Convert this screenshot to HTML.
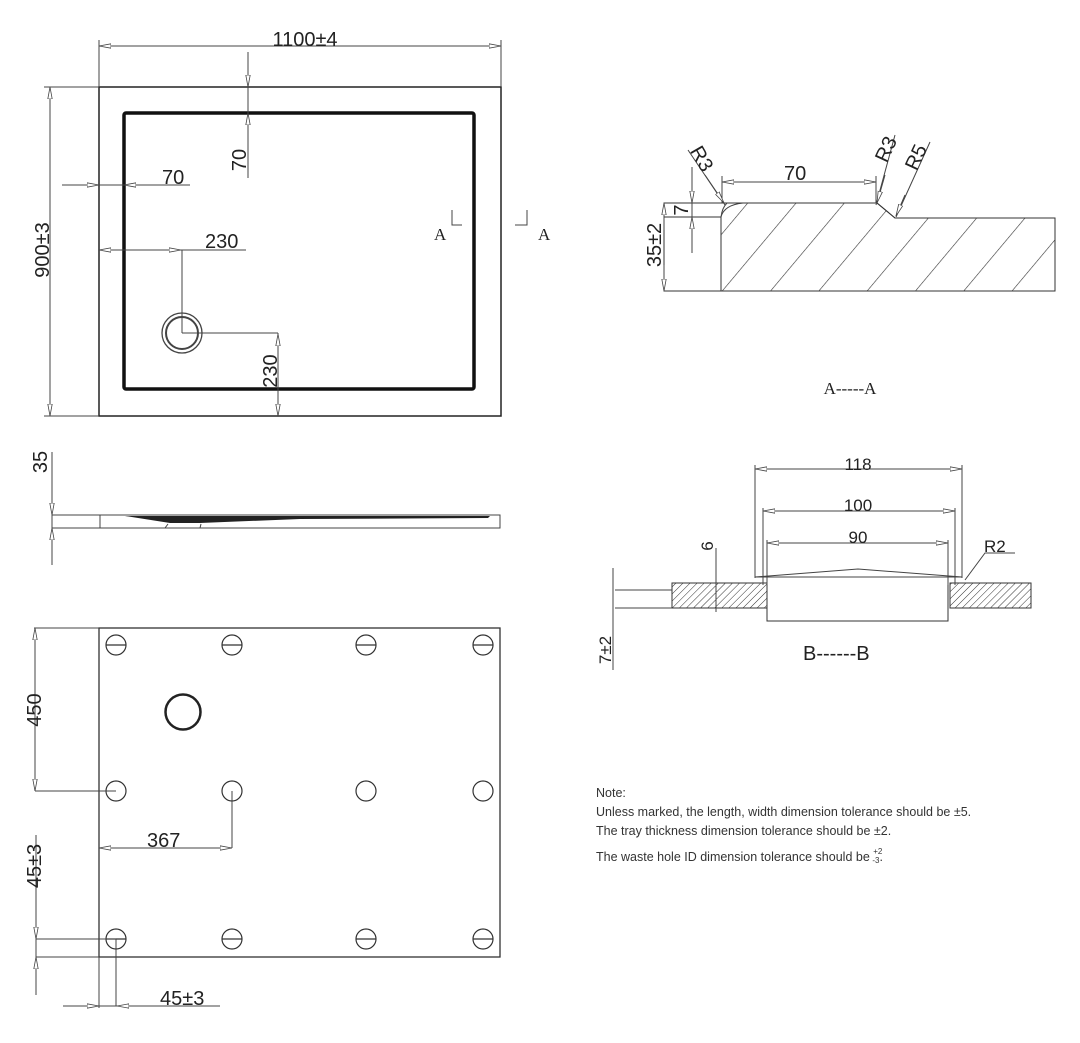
<!DOCTYPE html>
<html><head><meta charset="utf-8"><style>
html,body{margin:0;padding:0;background:#fff;}
svg{display:block;font-family:"Liberation Sans",sans-serif;}
</style></head><body>
<svg width="1080" height="1043" viewBox="0 0 1080 1043" xmlns="http://www.w3.org/2000/svg">
<defs>
<marker id="a" viewBox="0 0 12 6" refX="12" refY="3" markerWidth="12" markerHeight="6" orient="auto-start-reverse" markerUnits="userSpaceOnUse">
<path d="M0,0.8 L12,3 L0,5.2 Z" fill="#fff" stroke="#444" stroke-width="0.8"/></marker>
<pattern id="h1" width="37" height="40" patternUnits="userSpaceOnUse" patternTransform="rotate(40)"><line x1="0" y1="0" x2="0" y2="40" stroke="#333" stroke-width="1.2"/></pattern>
<pattern id="h2" width="5" height="5" patternUnits="userSpaceOnUse" patternTransform="rotate(45)"><line x1="0" y1="0" x2="0" y2="5" stroke="#333" stroke-width="1"/></pattern>
</defs>
<g stroke="#444" stroke-width="1" fill="none">
<!-- top plan -->
<rect x="99" y="87" width="402" height="329" stroke="#222" stroke-width="1.5"/>
<rect x="124" y="113" width="350" height="276" rx="2" stroke="#111" stroke-width="3.5"/>
<line x1="99" y1="40" x2="99" y2="87"/><line x1="501" y1="40" x2="501" y2="87"/>
<line x1="99" y1="46" x2="501" y2="46" marker-start="url(#a)" marker-end="url(#a)"/>
<line x1="44" y1="87" x2="99" y2="87"/><line x1="44" y1="416" x2="99" y2="416"/>
<line x1="50" y1="87" x2="50" y2="416" marker-start="url(#a)" marker-end="url(#a)"/>
<line x1="248" y1="52" x2="248" y2="178"/>
<line x1="248" y1="60" x2="248" y2="87" marker-end="url(#a)"/>
<line x1="248" y1="140" x2="248" y2="113" marker-end="url(#a)"/>
<line x1="62" y1="185" x2="190" y2="185"/>
<line x1="70" y1="185" x2="99" y2="185" marker-end="url(#a)"/>
<line x1="150" y1="185" x2="124" y2="185" marker-end="url(#a)"/>
<line x1="99" y1="250" x2="246" y2="250"/>
<line x1="140" y1="250" x2="99" y2="250" marker-end="url(#a)"/>
<line x1="150" y1="250" x2="181" y2="250" marker-end="url(#a)"/>
<line x1="182" y1="250" x2="182" y2="333"/>
<circle cx="182" cy="333" r="20" stroke-width="1.3"/><circle cx="182" cy="333" r="16" stroke-width="2"/>
<line x1="182" y1="333" x2="278" y2="333"/>
<line x1="278" y1="333" x2="278" y2="416"/>
<line x1="278" y1="360" x2="278" y2="334" marker-end="url(#a)"/>
<line x1="278" y1="395" x2="278" y2="416" marker-end="url(#a)"/>
<polyline points="452,210 452,225 462,225"/><polyline points="515,225 527,225 527,210"/>
<!-- side view -->
<rect x="52" y="515" width="448" height="13"/>
<line x1="100" y1="515" x2="100" y2="528"/>
<line x1="52" y1="452" x2="52" y2="565"/>
<line x1="52" y1="495" x2="52" y2="515" marker-end="url(#a)"/>
<line x1="52" y1="548" x2="52" y2="528" marker-end="url(#a)"/>
<path d="M125,516 L490,516 L488,518 L300,519 L200,523 L170,523 Z" fill="#222" stroke="none"/>
<line x1="165" y1="528" x2="168" y2="524"/><line x1="200" y1="528" x2="201" y2="524"/>
<!-- section A-A -->
<path d="M721,217 L721,291 L1055,291 L1055,218 L895,218 L877,203 L743,203 Q724,205 721,217 Z" fill="url(#h1)"/>
<path d="M664,203 L877,203 L895,218 L1055,218 L1055,291 L664,291 Z" stroke="#333"/>
<polyline points="664,217 721,217 721,291" stroke="#333"/>
<path d="M727,203 Q722,208 721,217" />
<line x1="722" y1="176" x2="722" y2="203"/><line x1="876" y1="176" x2="876" y2="203"/>
<line x1="722" y1="182" x2="876" y2="182" marker-start="url(#a)" marker-end="url(#a)"/>
<line x1="688" y1="150" x2="725" y2="205"/><line x1="705" y1="175" x2="724" y2="203" marker-end="url(#a)"/>
<line x1="876" y1="205" x2="895" y2="135"/><line x1="885" y1="175" x2="877" y2="203" marker-end="url(#a)"/>
<line x1="896" y1="217" x2="930" y2="142"/><line x1="905" y1="195" x2="896" y2="216" marker-end="url(#a)"/>
<line x1="692" y1="167" x2="692" y2="253"/>
<line x1="692" y1="183" x2="692" y2="203" marker-end="url(#a)"/>
<line x1="692" y1="237" x2="692" y2="217" marker-end="url(#a)"/>
<line x1="664" y1="230" x2="664" y2="203" marker-end="url(#a)"/>
<line x1="664" y1="265" x2="664" y2="291" marker-end="url(#a)"/>
<!-- section B-B -->
<rect x="672" y="583" width="95" height="25" fill="url(#h2)" stroke="#333"/>
<rect x="950" y="583" width="81" height="25" fill="url(#h2)" stroke="#333"/>
<rect x="767" y="577" width="181" height="44" fill="#fff" stroke="#333"/>
<polyline points="755,577 858,569 962,577" />
<line x1="755" y1="577" x2="962" y2="577"/>
<line x1="755" y1="465" x2="755" y2="578"/><line x1="962" y1="465" x2="962" y2="578"/>
<line x1="755" y1="469" x2="962" y2="469" marker-start="url(#a)" marker-end="url(#a)"/>
<line x1="763" y1="508" x2="763" y2="585"/><line x1="955" y1="508" x2="955" y2="585"/>
<line x1="763" y1="511" x2="955" y2="511" marker-start="url(#a)" marker-end="url(#a)"/>
<line x1="767" y1="540" x2="767" y2="585"/><line x1="948" y1="540" x2="948" y2="585"/>
<line x1="767" y1="543" x2="948" y2="543" marker-start="url(#a)" marker-end="url(#a)"/>
<line x1="615" y1="590" x2="672" y2="590"/><line x1="615" y1="608" x2="672" y2="608"/>
<line x1="613" y1="568" x2="613" y2="670"/>
<line x1="716" y1="548" x2="716" y2="612"/>
<polyline points="965,580 985,553 1015,553"/>
<!-- bottom plan -->
<rect x="99" y="628" width="401" height="329" stroke="#333" stroke-width="1.3"/>
<line x1="99" y1="957" x2="99" y2="1008"/>
<line x1="34" y1="628" x2="99" y2="628"/>
<g stroke="#333" stroke-width="1.2">
<circle cx="116" cy="645" r="10"/><line x1="106" y1="645" x2="126" y2="645"/>
<circle cx="232" cy="645" r="10"/><line x1="222" y1="645" x2="242" y2="645"/>
<circle cx="366" cy="645" r="10"/><line x1="356" y1="645" x2="376" y2="645"/>
<circle cx="483" cy="645" r="10"/><line x1="473" y1="645" x2="493" y2="645"/>
<circle cx="116" cy="791" r="10"/><circle cx="232" cy="791" r="10"/>
<circle cx="366" cy="791" r="10"/><circle cx="483" cy="791" r="10"/>
<circle cx="116" cy="939" r="10"/><line x1="106" y1="939" x2="126" y2="939"/>
<circle cx="232" cy="939" r="10"/><line x1="222" y1="939" x2="242" y2="939"/>
<circle cx="366" cy="939" r="10"/><line x1="356" y1="939" x2="376" y2="939"/>
<circle cx="483" cy="939" r="10"/><line x1="473" y1="939" x2="493" y2="939"/>
</g>
<circle cx="183" cy="712" r="17.5" stroke="#222" stroke-width="2.5"/>
<line x1="35" y1="628" x2="35" y2="791" marker-start="url(#a)" marker-end="url(#a)"/>
<line x1="35" y1="791" x2="116" y2="791"/>
<line x1="99" y1="848" x2="232" y2="848" marker-start="url(#a)" marker-end="url(#a)"/>
<line x1="232" y1="791" x2="232" y2="848"/>
<line x1="36" y1="835" x2="36" y2="995"/>
<line x1="36" y1="915" x2="36" y2="939" marker-end="url(#a)"/>
<line x1="36" y1="980" x2="36" y2="957" marker-end="url(#a)"/>
<line x1="36" y1="939" x2="116" y2="939"/><line x1="36" y1="957" x2="99" y2="957"/>
<line x1="63" y1="1006" x2="220" y2="1006"/>
<line x1="80" y1="1006" x2="99" y2="1006" marker-end="url(#a)"/>
<line x1="135" y1="1006" x2="117" y2="1006" marker-end="url(#a)"/>
<line x1="116" y1="939" x2="116" y2="1006"/>
</g>
<g fill="#222" font-size="20">
<text x="305" y="46" text-anchor="middle">1100±4</text>
<text transform="translate(49,250) rotate(-90)" text-anchor="middle">900±3</text>
<text transform="translate(246,160) rotate(-90)" text-anchor="middle">70</text>
<text x="162" y="184">70</text>
<text x="205" y="248">230</text>
<text transform="translate(277,371) rotate(-90)" text-anchor="middle">230</text>
<text transform="translate(47,462) rotate(-90)" text-anchor="middle">35</text>
<text x="784" y="180">70</text>
<text transform="translate(696,162) rotate(60)" text-anchor="middle">R3</text>
<text transform="translate(892,152) rotate(-65)" text-anchor="middle">R3</text>
<text transform="translate(922,160) rotate(-65)" text-anchor="middle">R5</text>
<text transform="translate(688,210) rotate(-90)" text-anchor="middle">7</text>
<text transform="translate(661,245) rotate(-90)" text-anchor="middle">35±2</text>
<text x="803" y="660">B------B</text>
<text transform="translate(41,710) rotate(-90)" text-anchor="middle">450</text>
<text x="147" y="847">367</text>
<text transform="translate(41,866) rotate(-90)" text-anchor="middle">45±3</text>
<text x="160" y="1005">45±3</text>
</g>
<g fill="#222" font-size="17">
<text x="858" y="470" text-anchor="middle">118</text>
<text x="858" y="511" text-anchor="middle">100</text>
<text x="858" y="543" text-anchor="middle">90</text>
<text x="984" y="552">R2</text>
<text transform="translate(713,546) rotate(-90)" text-anchor="middle">6</text>
<text transform="translate(611,650) rotate(-90)" text-anchor="middle">7±2</text>
</g>
<g fill="#222" font-family="Liberation Serif,serif" font-size="17">
<text x="434" y="240">A</text><text x="538" y="240">A</text>
<text x="850" y="394" text-anchor="middle">A-----A</text>
</g>
<g fill="#333" font-size="12.5">
<text x="596" y="797">Note:</text>
<text x="596" y="816">Unless marked, the length, width dimension tolerance should be ±5.</text>
<text x="596" y="835">The tray thickness dimension tolerance should be ±2.</text>
<text x="596" y="861">The waste hole ID dimension tolerance should be <tspan font-size="8" dy="-7">+2</tspan><tspan font-size="8" dx="-10" dy="9">-3</tspan><tspan dy="-2">.</tspan></text>
</g>
</svg>
</body></html>
